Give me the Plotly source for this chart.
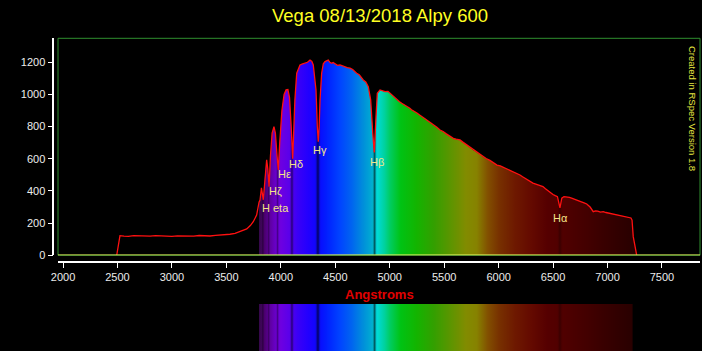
import numpy as np
import plotly.graph_objects as go

# ---------------- data ----------------
wavelength = [2493, 2523, 2560, 2600, 2650, 2700, 2750, 2800, 2850, 2900, 2950, 3000,
              3050, 3100, 3150, 3200, 3250, 3300, 3350, 3400, 3450, 3500,
              3533, 3580, 3625, 3687, 3720, 3747, 3778, 3793, 3800, 3809, 3822, 3839,
              3855, 3870, 3880, 3892, 3905, 3920, 3937, 3950, 3965, 3977, 3990, 4010,
              4030, 4048, 4065, 4080, 4095, 4109, 4120, 4129, 4146, 4176, 4200, 4222,
              4245, 4268, 4285, 4298, 4323, 4335, 4344, 4352, 4360, 4375, 4390, 4406,
              4420, 4436, 4450, 4467, 4480, 4500, 4520, 4543, 4560, 4590, 4610, 4635,
              4660, 4696, 4720, 4757, 4780, 4803, 4825, 4844, 4858, 4874, 4886, 4911,
              4935, 4957, 4984, 5003, 5035, 5067, 5090, 5110, 5135, 5159, 5185, 5200,
              5225, 5250, 5275, 5300, 5320, 5342, 5370, 5400, 5430, 5462, 5490, 5520,
              5550, 5584, 5610, 5645, 5675, 5700, 5730, 5765, 5790, 5810, 5835, 5856,
              5885, 5920, 5950, 5985, 6015, 6050, 6075, 6104, 6130, 6150, 6175, 6196,
              6220, 6250, 6280, 6315, 6335, 6360, 6385, 6407, 6430, 6455, 6480, 6499,
              6520, 6540, 6563, 6580, 6600, 6625, 6650, 6670, 6690, 6717, 6740, 6760,
              6785, 6809, 6840, 6869, 6890, 6910, 6935, 6961, 6985, 7010, 7030, 7053,
              7080, 7110, 7140, 7176, 7195, 7215, 7225, 7236, 7268]
flux = [0, 122, 119, 118, 122, 121, 118, 119, 122, 120, 117, 118,
        121, 121, 118, 119, 123, 122, 120, 124, 125, 128,
        131, 136, 147, 164, 185, 209, 250, 313, 330, 344, 420, 345,
        500, 593, 540, 427, 620, 760, 800, 760, 620, 530, 700, 900,
        1000, 1028, 1030, 980, 800, 600, 800, 966, 1132, 1183, 1190, 1194,
        1200, 1214, 1205, 1183, 1028, 800, 706, 800, 966, 1132, 1190, 1204,
        1210, 1214, 1200, 1194, 1199, 1188, 1181, 1183, 1178, 1172, 1167, 1163,
        1155, 1132, 1122, 1090, 1078, 1048, 966, 760, 640, 862, 1007, 1028,
        1022, 1017, 1019, 1007, 985, 966, 955, 945, 936, 924, 914, 905,
        897, 885, 872, 860, 853, 841, 826, 810, 798, 779, 770, 755,
        742, 727, 722, 717, 702, 690, 673, 655, 646, 635, 626, 613,
        602, 590, 575, 561, 556, 545, 538, 530, 520, 515, 507, 499,
        488, 475, 463, 449, 444, 437, 431, 427, 414, 400, 390, 378,
        371, 365, 295, 355, 365, 364, 360, 355, 351, 344, 339, 332,
        326, 319, 300, 271, 276, 275, 268, 271, 266, 262, 259, 257,
        254, 250, 246, 240, 237, 232, 219, 116, 0]

line_names = ["H eta", "Hζ", "Hε", "Hδ", "Hγ", "Hβ", "Hα"]
line_waves = [3835, 3889, 3970, 4102, 4340, 4861, 6563]

x_ticks = list(range(2000, 7501, 500))
y_ticks = list(range(0, 1201, 200))

# ---------------- styling ----------------
W, H = 702, 351
def px(x):
    return x / W
def py(y):
    return 1 - y / H

label_x = [3954, 3947, 4031, 4138, 4362, 4885, 6568]
label_y = [297, 401, 505, 566, 653, 582, 230]
line_depth = [0.35, 0.35, 0.35, 0.45, 0.55, 0.55, 0.25]
line_sigma = [5, 5, 6, 8, 10, 8, 10]

spec_start, spec_stop = 3800, 7250
base_stops = [
    (3800, (55, 10, 75)), (3850, (75, 0, 110)), (3900, (95, 0, 160)),
    (3950, (105, 0, 200)), (4000, (110, 0, 225)), (4080, (90, 0, 235)),
    (4150, (60, 0, 245)), (4250, (35, 0, 255)), (4350, (10, 10, 255)),
    (4450, (0, 40, 255)), (4550, (0, 70, 255)), (4650, (0, 100, 240)),
    (4750, (0, 140, 220)), (4830, (0, 170, 210)), (4880, (0, 220, 220)),
    (4950, (0, 210, 160)), (5000, (0, 205, 100)), (5100, (0, 195, 20)),
    (5250, (20, 180, 0)), (5400, (50, 160, 0)), (5550, (90, 150, 0)),
    (5700, (130, 140, 0)), (5800, (135, 130, 0)), (5900, (130, 80, 0)),
    (6000, (120, 50, 0)), (6150, (110, 25, 0)), (6300, (100, 10, 0)),
    (6450, (85, 0, 0)), (6600, (80, 0, 0)), (6800, (68, 0, 0)),
    (7000, (55, 0, 0)), (7250, (40, 0, 0)),
]
sl = np.array([s[0] for s in base_stops], float)
sc = np.array([s[1] for s in base_stops], float)
grid = np.arange(spec_start, spec_stop + 1, 5)
colorscale = []
for l in grid:
    c = np.array([np.interp(l, sl, sc[:, k]) for k in range(3)])
    dark = 0.0
    for lw, d, s in zip(line_waves, line_depth, line_sigma):
        dark += d * np.exp(-0.5 * ((l - lw) / s) ** 2)
    c = np.clip(c * (1 - min(dark, 0.85)), 0, 255)
    pos = (l - spec_start) / (spec_stop - spec_start)
    colorscale.append([float(pos), "rgb(%d,%d,%d)" % tuple(int(v) for v in c)])
colorscale[-1][0] = 1.0

wl = np.array(wavelength)
fx = np.array(flux)
mask = wl >= spec_start

FONT = "Liberation Sans, Arial, sans-serif"

fig = go.Figure()
# coloured fill under the spectrum
fig.add_trace(go.Scatter(
    x=wl[mask], y=fx[mask], mode="none", fill="tozeroy",
    fillgradient=dict(type="horizontal", colorscale=colorscale,
                      start=spec_start, stop=spec_stop),
    hoverinfo="skip", xaxis="x", yaxis="y"))
# red spectrum line
fig.add_trace(go.Scatter(
    x=wl, y=fx, mode="lines", line=dict(color="#ff1010", width=1.3),
    xaxis="x", yaxis="y"))
# bottom synthetic spectrum strip
fig.add_trace(go.Scatter(
    x=[spec_start, 7230], y=[1, 1], mode="none", fill="tozeroy",
    fillgradient=dict(type="horizontal", colorscale=colorscale,
                      start=spec_start, stop=spec_stop),
    hoverinfo="skip", xaxis="x2", yaxis="y2"))

x_dom = [px(58), px(700)]
y_dom = [py(255.3), py(38.3)]

fig.update_layout(
    width=W, height=H,
    paper_bgcolor="black", plot_bgcolor="black",
    margin=dict(l=0, r=0, t=0, b=0),
    showlegend=False,
    font=dict(family=FONT, color="#ececec", size=11),
    xaxis=dict(domain=x_dom, range=[1954, 7849], anchor="free", position=py(261.5),
               tickvals=x_ticks, ticks="outside", ticklen=6, tickcolor="white",
               showline=True, linecolor="white", linewidth=1.5, showgrid=False,
               zeroline=False, tickfont=dict(size=11, color="#ececec", family=FONT),
               automargin=False),
    yaxis=dict(domain=y_dom, range=[0, 1349], anchor="free", position=px(53.3),
               tickvals=y_ticks, ticks="outside", ticklen=5, tickcolor="white",
               showline=True, linecolor="white", linewidth=1.5, showgrid=False,
               zeroline=False, tickfont=dict(size=11, color="#ececec", family=FONT),
               automargin=False),
    xaxis2=dict(domain=x_dom, matches="x", anchor="y2", visible=False),
    yaxis2=dict(domain=[0, py(304)], range=[0, 1], anchor="x2", visible=False),
)

# plot frame and zero line
fig.add_shape(type="rect", xref="paper", yref="paper",
              x0=x_dom[0], x1=x_dom[1], y0=y_dom[0], y1=y_dom[1],
              line=dict(color="#2f8f2f", width=1))
fig.add_shape(type="line", xref="paper", yref="y", x0=x_dom[0], x1=x_dom[1],
              y0=0, y1=0, line=dict(color="#ffff66", width=1.5))

# texts
fig.add_annotation(text="Vega 08/13/2018 Alpy 600", xref="paper", yref="paper",
                   x=px(380), y=py(15.5), showarrow=False, xanchor="center",
                   yanchor="middle", font=dict(size=18.5, color="#ffff22", family=FONT))
fig.add_annotation(text="<b>Angstroms</b>", xref="paper", yref="paper",
                   x=px(379), y=py(294), showarrow=False, xanchor="center",
                   yanchor="middle", font=dict(size=13, color="#e00000", family=FONT))
fig.add_annotation(text="Created in RSpec Version 1.8", xref="paper", yref="paper",
                   x=px(693), y=py(108), showarrow=False, textangle=90,
                   xanchor="center", yanchor="middle",
                   font=dict(size=9.5, color="#e6e640", family=FONT))
for name, lx, ly in zip(line_names, label_x, label_y):
    fig.add_annotation(text=name, xref="x", yref="y", x=lx, y=ly, showarrow=False,
                       xanchor="center", yanchor="middle",
                       font=dict(size=11, color="#f4e488", family=FONT))

fig.write_html("out.html")
